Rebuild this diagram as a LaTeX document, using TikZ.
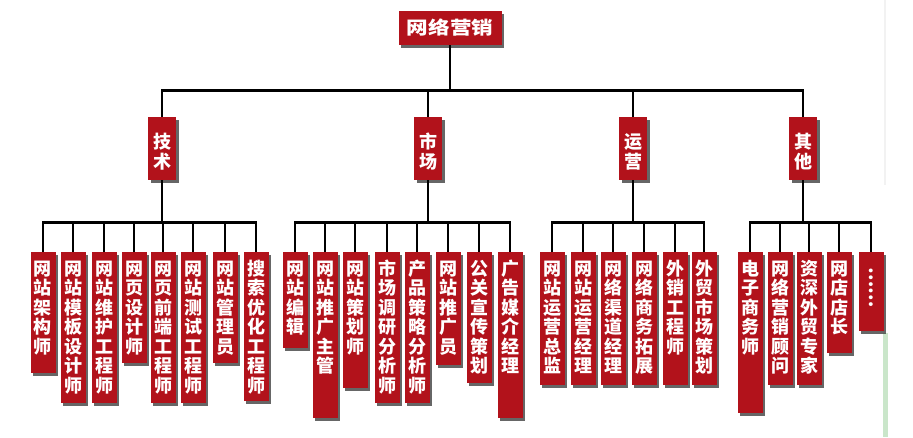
\documentclass[tikz,border=0pt]{standalone}
\usepackage{fontspec}
\newfontfamily\cjk{Noto Sans CJK SC}
\newfontfamily\cjkwide[FakeStretch=1.2]{Noto Sans CJK SC}
\usetikzlibrary{positioning,shadows}
\definecolor{boxred}{RGB}{178,18,27}
\definecolor{edgegreen}{RGB}{202,230,202}

\begin{document}
\begin{tikzpicture}[x=1pt, y=-1pt,
  tile/.style={fill=boxred, text=white, inner sep=0pt, align=center,
    drop shadow={shadow xshift=2.5pt, shadow yshift=-2.5pt, fill=black!75, opacity=.8}},
  head/.style={tile, minimum width=103pt, minimum height=34pt, font=\cjkwide\bfseries\fontsize{18}{20}\selectfont},
  cat/.style={tile, anchor=north, text width=28pt, text height=31.5pt, text depth=#1, font=\cjk\bfseries\fontsize{18}{19.5}\selectfont},
  cat/.default=31.5pt,
  leaf/.style={tile, anchor=north, text width=25pt, text height=23pt, text depth=#1, font=\cjk\bfseries\fontsize{18}{19.5}\selectfont},
  link/.style={line width=2.8pt, line join=miter}]
  \fill[white] (0,0) rectangle (913,437);
  \useasboundingbox (0,0) rectangle (913,437);
  \fill[black!5] (884,0) rectangle (886,185);
  \fill[edgegreen] (883,333) rectangle (888,437);
  % top levels
  \node[head] (root) at (450,28) {网络营销};
  \node[cat] (jishu) at (162,117) {技\\术};
  \node[cat] (shichang) at (428,117) {市\\场};
  \node[cat] (yunying) at (633,117) {运\\营};
  \node[cat] (qita) at (803,117) {其\\他};
  \draw[link] (root.south) -- ++(0,45) -| (jishu.north);
  \draw[link] (root.south) -- ++(0,45) -| (shichang.north);
  \draw[link] (root.south) -- ++(0,45) -| (yunying.north);
  \draw[link] (root.south) -- ++(0,45) -| (qita.north);
  % jishu
  \node[leaf=98pt] (j1) at (43,252) {网\\站\\架\\构\\师};
  \node[leaf=128pt] (j2) at (73,252) {网\\站\\模\\板\\设\\计\\师};
  \node[leaf=128pt] (j3) at (104,252) {网\\站\\维\\护\\工\\程\\师};
  \node[leaf=88pt] (j4) at (134,252) {网\\页\\设\\计\\师};
  \node[leaf=128pt] (j5) at (163,252) {网\\页\\前\\端\\工\\程\\师};
  \node[leaf=128pt] (j6) at (193,252) {网\\站\\测\\试\\工\\程\\师};
  \node[leaf=88pt] (j7) at (225,252) {网\\站\\管\\理\\员};
  \node[leaf=126pt] (j8) at (256,252) {搜\\索\\优\\化\\工\\程\\师};
  \draw[link] (jishu.south) -- ++(0,42) -| (j1.north); \draw[link] (jishu.south) -- ++(0,42) -| (j2.north);
  \draw[link] (jishu.south) -- ++(0,42) -| (j3.north); \draw[link] (jishu.south) -- ++(0,42) -| (j4.north);
  \draw[link] (jishu.south) -- ++(0,42) -| (j5.north); \draw[link] (jishu.south) -- ++(0,42) -| (j6.north);
  \draw[link] (jishu.south) -- ++(0,42) -| (j7.north); \draw[link] (jishu.south) -- ++(0,42) -| (j8.north);
  % shichang
  \node[leaf=73pt] (s1) at (295,252) {网\\站\\编\\辑};
  \node[leaf=143pt] (s2) at (325,252) {网\\站\\推\\广\\主\\管};
  \node[leaf=113pt] (s3) at (355,252) {网\\站\\策\\划\\师};
  \node[leaf=128pt] (s4) at (387,252) {市\\场\\调\\研\\分\\析\\师};
  \node[leaf=128pt] (s5) at (417,252) {产\\品\\策\\略\\分\\析\\师};
  \node[leaf=90pt] (s6) at (448,252) {网\\站\\推\\广\\员};
  \node[leaf=108pt] (s7) at (479,252) {公\\关\\宣\\传\\策\\划};
  \node[leaf=143pt] (s8) at (510,252) {广\\告\\媒\\介\\经\\理};
  \draw[link] (shichang.south) -- ++(0,42) -| (s1.north); \draw[link] (shichang.south) -- ++(0,42) -| (s2.north);
  \draw[link] (shichang.south) -- ++(0,42) -| (s3.north); \draw[link] (shichang.south) -- ++(0,42) -| (s4.north);
  \draw[link] (shichang.south) -- ++(0,42) -| (s5.north); \draw[link] (shichang.south) -- ++(0,42) -| (s6.north);
  \draw[link] (shichang.south) -- ++(0,42) -| (s7.north); \draw[link] (shichang.south) -- ++(0,42) -| (s8.north);
  % yunying
  \node[leaf=110pt] (y1) at (552,252) {网\\站\\运\\营\\总\\监};
  \node[leaf=110pt] (y2) at (583,252) {网\\站\\运\\营\\经\\理};
  \node[leaf=110pt] (y3) at (613,252) {网\\络\\渠\\道\\经\\理};
  \node[leaf=110pt] (y4) at (644,252) {网\\络\\商\\务\\拓\\展};
  \node[leaf=110pt] (y5) at (675,252) {外\\销\\工\\程\\师};
  \node[leaf=110pt] (y6) at (704,252) {外\\贸\\市\\场\\策\\划};
  \draw[link] (yunying.south) -- ++(0,42) -| (y1.north); \draw[link] (yunying.south) -- ++(0,42) -| (y2.north);
  \draw[link] (yunying.south) -- ++(0,42) -| (y3.north); \draw[link] (yunying.south) -- ++(0,42) -| (y4.north);
  \draw[link] (yunying.south) -- ++(0,42) -| (y5.north); \draw[link] (yunying.south) -- ++(0,42) -| (y6.north);
  % qita
  \node[leaf=138pt] (q1) at (750,252) {电\\子\\商\\务\\师};
  \node[leaf=110pt] (q2) at (780,252) {网\\络\\营\\销\\顾\\问};
  \node[leaf=110pt] (q3) at (809,252) {资\\深\\外\\贸\\专\\家};
  \node[leaf=78pt] (q4) at (839,252) {网\\店\\店\\长};
  \node[leaf=64pt, text height=15pt] (q5) at (871,252) {\rotatebox{-90}{……}};
  \draw[link] (qita.south) -- ++(0,42) -| (q1.north); \draw[link] (qita.south) -- ++(0,42) -| (q2.north);
  \draw[link] (qita.south) -- ++(0,42) -| (q3.north); \draw[link] (qita.south) -- ++(0,42) -| (q4.north);
  \draw[link] (qita.south) -- ++(0,42) -| (q5.north);
\end{tikzpicture}
\end{document}
